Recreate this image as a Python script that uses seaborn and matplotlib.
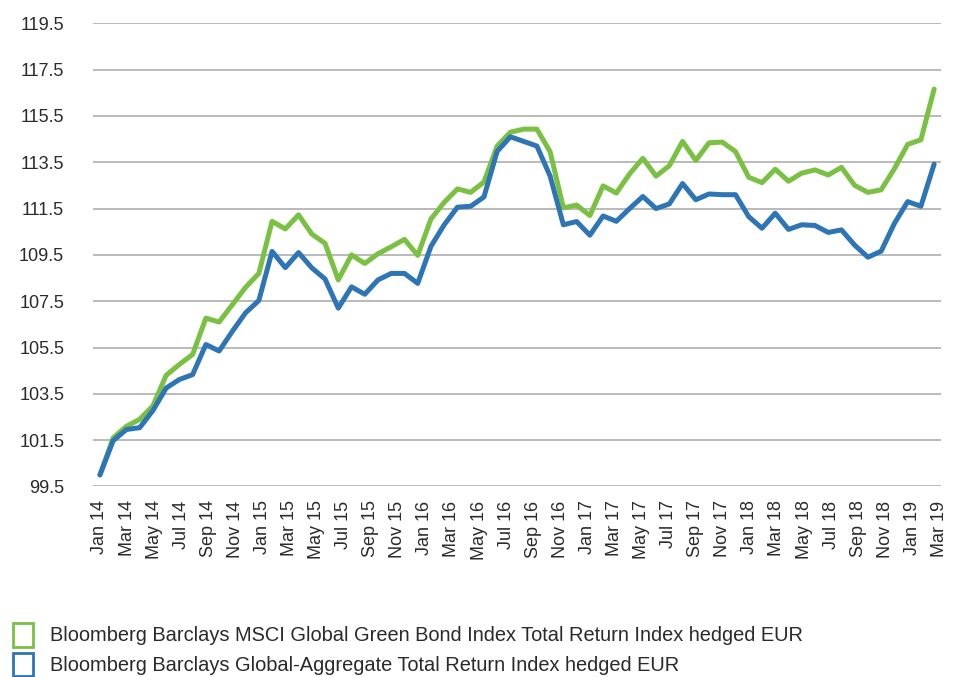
import numpy as np
import pandas as pd
import matplotlib
matplotlib.use("Agg")
import matplotlib.pyplot as plt
from matplotlib.patches import Patch
import seaborn as sns


green_name = "Bloomberg Barclays MSCI Global Green Bond Index Total Return Index hedged EUR"
agg_name = "Bloomberg Barclays Global-Aggregate Total Return Index hedged EUR"

# monthly index levels
green_bond = [100.0, 101.6, 102.1, 102.4, 102.98, 104.3, 104.77, 105.2, 106.77, 106.6,
              107.35, 108.1, 108.7, 110.95, 110.62, 111.23, 110.4, 110.0, 108.42, 109.5,
              109.13, 109.55, 109.85, 110.17, 109.48, 111.05, 111.77, 112.35, 112.2, 112.65,
              114.2, 114.8, 114.93, 114.93, 113.95, 111.53, 111.65, 111.2, 112.48, 112.17,
              113.0, 113.67, 112.9, 113.35, 114.4, 113.58, 114.34, 114.37, 113.96, 112.85,
              112.62, 113.2, 112.68, 113.03, 113.17, 112.95, 113.28, 112.5, 112.2, 112.31,
              113.22, 114.27, 114.47, 116.66]

global_agg = [100.0, 101.48, 101.96, 102.04, 102.78, 103.75, 104.12, 104.33, 105.63, 105.35,
              106.2, 107.0, 107.53, 109.65, 108.95, 109.6, 108.94, 108.46, 107.2, 108.12,
              107.8, 108.42, 108.7, 108.7, 108.27, 109.87, 110.8, 111.56, 111.6, 112.0,
              113.97, 114.6, 114.4, 114.2, 112.9, 110.8, 110.94, 110.35, 111.18, 110.95,
              111.5, 112.02, 111.5, 111.7, 112.58, 111.88, 112.13, 112.1, 112.1, 111.15,
              110.65, 111.3, 110.6, 110.8, 110.77, 110.47, 110.58, 109.92, 109.4, 109.66,
              110.86, 111.8, 111.6, 113.42]

tick_labels = ["Jan 14", "Mar 14", "May 14", "Jul 14", "Sep 14", "Nov 14",
               "Jan 15", "Mar 15", "May 15", "Jul 15", "Sep 15", "Nov 15",
               "Jan 16", "Mar 16", "May 16", "Jul 16", "Sep 16", "Nov 16",
               "Jan 17", "Mar 17", "May 17", "Jul 17", "Sep 17", "Nov 17",
               "Jan 18", "Mar 18", "May 18", "Jul 18", "Sep 18", "Nov 18",
               "Jan 19", "Mar 19"]

y_ticks = [99.5, 101.5, 103.5, 105.5, 107.5, 109.5, 111.5, 113.5, 115.5, 117.5, 119.5]

colors = {green_name: "#7ac143", agg_name: "#2e75b6"}


def get_data():
    df = pd.DataFrame({"month": np.arange(len(green_bond)),
                       green_name: green_bond,
                       agg_name: global_agg})
    return df.melt(id_vars="month", var_name="series", value_name="value")


def plot_index(df):
    sns.set_style("white")
    plt.rcParams['font.family'] = ['Liberation Sans', 'DejaVu Sans']
    text_col = "#2a2a2a"

    fig = plt.figure(figsize=(9.63, 6.77), dpi=100)
    ax = fig.add_axes([0.0969, 0.2814, 0.88, 0.6842])

    sns.lineplot(data=df, x="month", y="value", hue="series",
                 hue_order=[green_name, agg_name], palette=colors,
                 linewidth=3.6, legend=False, ax=ax)

    n = len(green_bond)
    ax.set_xlim(-0.5, n - 0.5)
    ax.set_ylim(y_ticks[0], y_ticks[-1])
    ax.set_yticks(y_ticks)
    ax.set_yticklabels([f"{v:.1f}" for v in y_ticks])
    ax.set_xticks(np.linspace(0, n - 0.6, len(tick_labels)))
    ax.set_xticklabels(tick_labels, rotation=90)
    ax.set_xlabel("")
    ax.set_ylabel("")

    ax.set_axisbelow(True)
    ax.grid(axis="y", color="#b4b4b4", linewidth=1.3)
    ax.grid(axis="x", visible=False)
    sns.despine(ax=ax, left=True, bottom=True)
    ax.tick_params(axis="y", length=0, pad=21, labelsize=13, labelcolor=text_col)
    ax.tick_params(axis="x", length=4, width=1, color="#b4b4b4", pad=6,
                   labelsize=13, labelcolor=text_col)

    handles = [Patch(facecolor="white", edgecolor=colors[k], linewidth=2)
               for k in [green_name, agg_name]]
    fig.legend(handles, [green_name, agg_name], loc="upper left",
               bbox_to_anchor=(0.014, 0.08), frameon=False, fontsize=14.4,
               handlelength=1.0, handleheight=1.45, handletextpad=0.85,
               labelspacing=0.3, borderpad=0, borderaxespad=0,
               labelcolor=text_col)

    fig.savefig("out.png", dpi=100)


if __name__ == '__main__':
    df = get_data()
    plot_index(df)
